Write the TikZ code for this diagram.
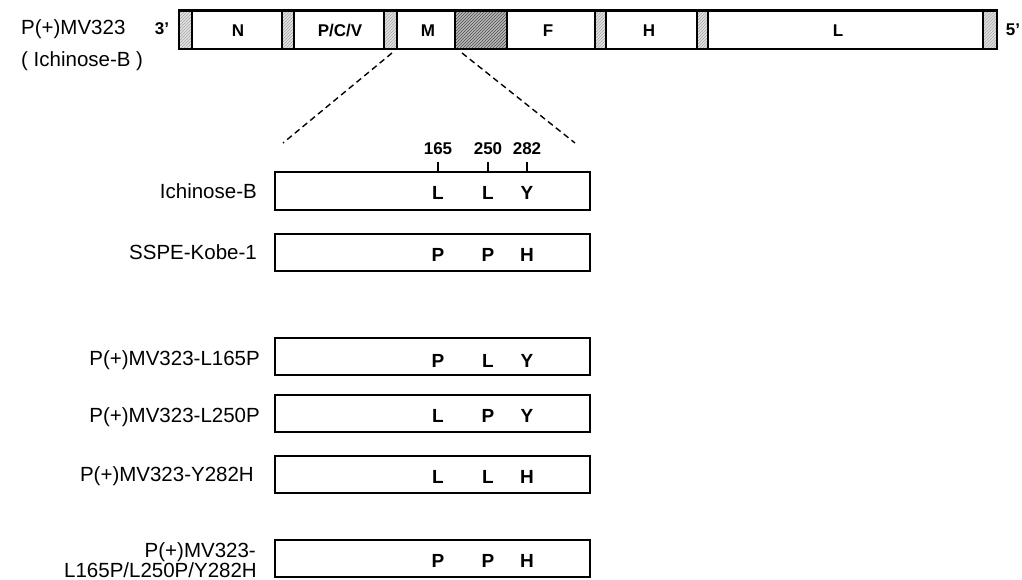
\documentclass[tikz,border=0pt]{standalone}
\usepackage{fontspec}
\setmainfont{Liberation Sans}
\usetikzlibrary{patterns}
\begin{document}
\begin{tikzpicture}[x=1pt,y=-1pt,
  lab/.style={font=\fontsize{20.5}{20}\selectfont, inner sep=0pt},
  res/.style={font=\fontsize{19}{19}\selectfont\bfseries, inner sep=0pt, anchor=base},
  num/.style={font=\fontsize{17}{17}\selectfont\bfseries, inner sep=0pt, anchor=base},
  gene/.style={draw, line width=2.6pt, minimum height=38.5pt, inner sep=0pt, outer sep=0pt},
  spacer/.style={gene, preaction={fill=gray!22}, pattern=north east lines, pattern color=gray!70},
  bigspacer/.style={gene, preaction={fill=gray!55}, pattern=north east lines, pattern color=black!70},
  mbox/.style={draw, line width=2.4pt, minimum width=315pt, minimum height=37.5pt, inner sep=0pt, outer sep=0pt},
  zoomline/.style={line width=1.4pt, dash pattern=on 6pt off 4pt},
  tick/.style={line width=1.2pt}
]
\useasboundingbox (0,0) rectangle (1022,580);

% ---- genome bar ----
\node[spacer, minimum width=13pt] (s1) at (185.5,29.75) {};
\node[gene, minimum width=90pt] (gN) at (237,29.75) {};
\node[spacer, minimum width=12pt] (s2) at (288,29.75) {};
\node[gene, minimum width=90pt] (gP) at (339,29.75) {};
\node[spacer, minimum width=13pt] (s3) at (390.5,29.75) {};
\node[gene, minimum width=58pt] (gM) at (426,29.75) {};
\node[bigspacer, minimum width=52pt] (s4) at (481,29.75) {};
\node[gene, minimum width=88pt] (gF) at (551,29.75) {};
\node[spacer, minimum width=11pt] (s5) at (600.5,29.75) {};
\node[gene, minimum width=91pt] (gH) at (651.5,29.75) {};
\node[spacer, minimum width=11pt] (s6) at (702.5,29.75) {};
\node[gene, minimum width=275pt] (gL) at (845.5,29.75) {};
\node[spacer, minimum width=14pt] (s7) at (990,29.75) {};

\node[num] (tN) at (238,36.5) {N};
\node[num] (tP) at (340,36.5) {P/C/V};
\node[num] (tM) at (428,36.5) {M};
\node[num] (tF) at (548,36.5) {F};
\node[num] (tH) at (649,36.5) {H};
\node[num] (tL) at (838,36.5) {L};

\node[num] (end3) at (162,35) {3'};
\node[num] (end5) at (1013,35.5) {5'};

\node[lab, anchor=base west] (pmv) at (21,35) {P(+)MV323};
\node[lab, anchor=base west] (ich) at (21,67) {( Ichinose-B )};

% ---- zoom lines ----
\coordinate (zl1) at (392,53);
\coordinate (zl2) at (283,143);
\coordinate (zr1) at (462,53);
\coordinate (zr2) at (575,143);
\draw[zoomline] (zl1) -- (zl2);
\draw[zoomline] (zr1) -- (zr2);

% ---- M protein boxes ----
\node[mbox] (b1) at (432.5,191) {};
\node[mbox] (b2) at (432.5,252.5) {};
\node[mbox] (b3) at (432.5,356.5) {};
\node[mbox] (b4) at (432.5,413.5) {};
\node[mbox] (b5) at (432.5,474.5) {};
\node[mbox] (b6) at (432.5,558.5) {};

% position numbers and ticks
\node[num] (n165) at (438,155) {165};
\node[num] (n250) at (488,155) {250};
\node[num] (n282) at (527,155) {282};
\coordinate (k1) at (438,162);
\coordinate (k2) at (488,162);
\coordinate (k3) at (527,162);
\draw[tick] (k1) -- (k1 |- b1.north);
\draw[tick] (k2) -- (k2 |- b1.north);
\draw[tick] (k3) -- (k3 |- b1.north);

% labels
\node[lab, anchor=base east] (l1) at (257,198) {Ichinose-B};
\node[lab, anchor=base east] (l2) at (257,259.5) {SSPE-Kobe-1};
\node[lab, anchor=base east] (l3) at (260,365) {P(+)MV323-L165P};
\node[lab, anchor=base east] (l4) at (260,422) {P(+)MV323-L250P};
\node[lab, anchor=base east] (l5) at (254,481) {P(+)MV323-Y282H};
\node[lab, anchor=base east] (l6a) at (256,557) {P(+)MV323-};
\node[lab, anchor=base east] (l6b) at (257,577) {L165P/L250P/Y282H};

% residues
\node[res] (r1a) at (438,200) {L};
\node[res] (r1b) at (488,200) {L};
\node[res] (r1c) at (527,200) {Y};
\node[res] (r2a) at (438,261.5) {P};
\node[res] (r2b) at (488,261.5) {P};
\node[res] (r2c) at (527,261.5) {H};
\node[res] (r3a) at (438,367.5) {P};
\node[res] (r3b) at (488,367.5) {L};
\node[res] (r3c) at (527,367.5) {Y};
\node[res] (r4a) at (438,422.5) {L};
\node[res] (r4b) at (488,422.5) {P};
\node[res] (r4c) at (527,422.5) {Y};
\node[res] (r5a) at (438,483.5) {L};
\node[res] (r5b) at (488,483.5) {L};
\node[res] (r5c) at (527,483.5) {H};
\node[res] (r6a) at (438,567.5) {P};
\node[res] (r6b) at (488,567.5) {P};
\node[res] (r6c) at (527,567.5) {H};
\end{tikzpicture}
\end{document}
